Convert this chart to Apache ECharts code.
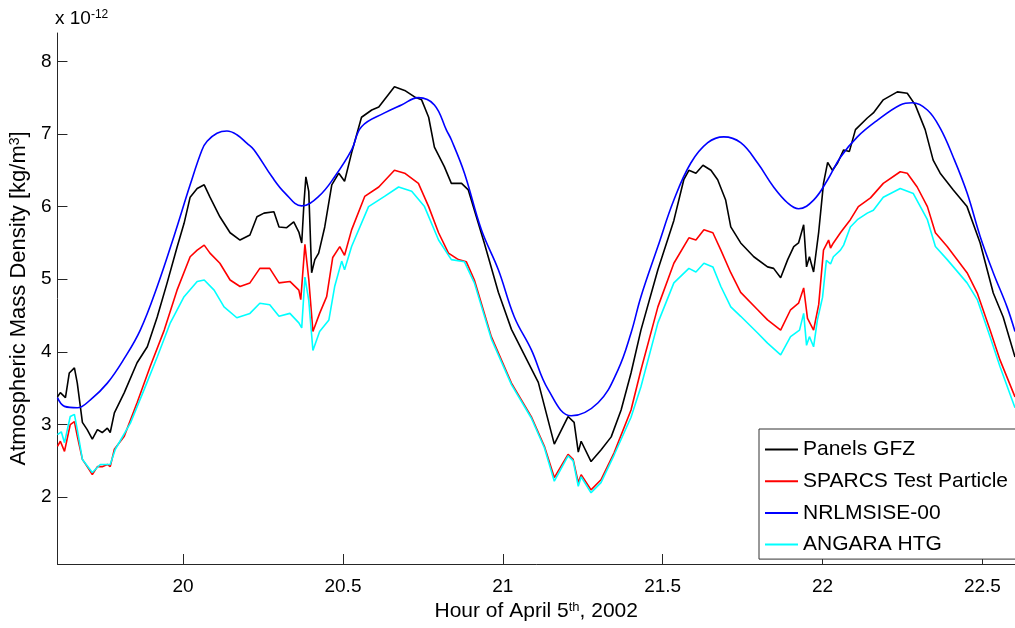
<!DOCTYPE html>
<html>
<head>
<meta charset="utf-8">
<title>Atmospheric Mass Density</title>
<script src="https://cdn.jsdelivr.net/npm/echarts@6/dist/echarts.min.js"></script>
<style>
  html, body { margin: 0; padding: 0; background: #fff; }
  #chart { width: 1015px; height: 628px; }
</style>
</head>
<body>
<div id="chart"></div>
<script>
// values in units of 1e-12 kg/m^3
const gfzHours = [19.607,19.616,19.632,19.644,19.660,19.669,19.685,19.700,19.716,19.732,
  19.747,19.763,19.772,19.785,19.816,19.856,19.888,19.919,19.950,19.981,
  20.003,20.022,20.044,20.066,20.084,20.115,20.147,20.178,20.209,20.231,
  20.253,20.284,20.300,20.324,20.346,20.362,20.371,20.378,20.384,20.393,
  20.402,20.412,20.424,20.443,20.465,20.487,20.505,20.527,20.558,20.590,
  20.612,20.661,20.693,20.724,20.746,20.768,20.786,20.817,20.839,20.871,
  20.892,20.942,20.986,21.027,21.080,21.111,21.161,21.204,21.223,21.236,
  21.245,21.276,21.307,21.339,21.370,21.401,21.432,21.485,21.535,21.566,
  21.582,21.604,21.626,21.651,21.672,21.697,21.713,21.744,21.785,21.828,
  21.847,21.869,21.891,21.910,21.925,21.941,21.950,21.959,21.972,21.988,
  22.003,22.016,22.031,22.047,22.066,22.084,22.103,22.140,22.159,22.190,
  22.234,22.265,22.290,22.321,22.346,22.368,22.409,22.452,22.493,22.534,
  22.565,22.602];
const gfzValues = [3.38,3.44,3.37,3.71,3.78,3.57,3.03,2.93,2.80,2.93,
  2.89,2.95,2.89,3.16,3.44,3.85,4.07,4.48,4.95,5.44,
  5.77,6.13,6.25,6.30,6.13,5.86,5.64,5.54,5.61,5.86,
  5.91,5.93,5.72,5.71,5.79,5.65,5.50,6.05,6.41,6.21,
  5.09,5.27,5.36,5.72,6.30,6.46,6.35,6.74,7.23,7.33,
  7.37,7.65,7.60,7.51,7.47,7.23,6.82,6.55,6.32,6.32,
  6.23,5.50,4.82,4.31,3.85,3.58,2.73,3.11,3.03,2.62,
  2.77,2.49,2.65,2.83,3.20,3.71,4.30,5.13,5.81,6.37,
  6.50,6.46,6.57,6.50,6.37,6.09,5.72,5.50,5.31,5.17,
  5.15,5.02,5.27,5.45,5.50,5.75,5.17,5.31,5.10,5.65,
  6.32,6.61,6.50,6.60,6.78,6.76,7.06,7.22,7.29,7.47,
  7.58,7.56,7.40,7.06,6.64,6.46,6.23,6.00,5.50,4.81,
  4.48,3.93];

const sparcsHours = [19.607,19.616,19.629,19.647,19.660,19.669,19.685,19.700,19.716,19.732,
  19.747,19.763,19.772,19.785,19.816,19.856,19.897,19.941,19.981,20.022,
  20.044,20.066,20.084,20.115,20.147,20.178,20.209,20.240,20.271,20.300,
  20.334,20.362,20.368,20.381,20.393,20.406,20.427,20.449,20.468,20.490,
  20.505,20.527,20.568,20.612,20.661,20.693,20.736,20.768,20.799,20.830,
  20.861,20.886,20.911,20.964,21.027,21.089,21.130,21.161,21.204,21.220,
  21.236,21.245,21.276,21.307,21.348,21.401,21.432,21.485,21.535,21.582,
  21.604,21.629,21.657,21.682,21.713,21.744,21.797,21.828,21.869,21.900,
  21.925,21.941,21.953,21.972,21.988,22.003,22.019,22.025,22.034,22.056,
  22.066,22.087,22.112,22.150,22.190,22.243,22.265,22.296,22.328,22.353,
  22.390,22.452,22.484,22.524,22.555,22.602];
const sparcsValues = [2.70,2.77,2.63,3.00,3.04,2.84,2.52,2.42,2.31,2.42,
  2.42,2.45,2.42,2.66,2.84,3.30,3.80,4.30,4.85,5.31,
  5.40,5.47,5.36,5.22,4.99,4.90,4.95,5.15,5.15,4.95,
  4.97,4.85,4.72,5.48,5.00,4.28,4.53,4.76,5.30,5.45,
  5.33,5.68,6.14,6.27,6.50,6.46,6.32,6.00,5.64,5.36,
  5.27,5.24,4.99,4.21,3.57,3.11,2.70,2.27,2.59,2.52,
  2.20,2.31,2.10,2.24,2.61,3.20,3.75,4.62,5.22,5.57,
  5.54,5.68,5.64,5.40,5.09,4.82,4.58,4.44,4.30,4.58,
  4.67,4.88,4.46,4.30,4.65,5.40,5.54,5.43,5.50,5.64,
  5.70,5.82,6.00,6.12,6.32,6.48,6.46,6.27,6.00,5.64,
  5.45,5.09,4.81,4.30,3.89,3.38];

const nrlHours = [19.607,19.629,19.669,19.710,19.763,19.816,19.866,19.919,19.972,20.022,
  20.059,20.075,20.106,20.137,20.168,20.200,20.222,20.278,20.318,20.371,
  20.424,20.474,20.527,20.558,20.630,20.683,20.736,20.786,20.824,20.839,
  20.880,20.933,20.986,21.036,21.089,21.142,21.214,21.298,21.360,21.401,
  21.432,21.485,21.535,21.588,21.641,21.691,21.744,21.797,21.847,21.891,
  21.925,21.972,22.016,22.056,22.109,22.172,22.243,22.281,22.328,22.368,
  22.409,22.452,22.493,22.534,22.577,22.602];
const nrlValues = [3.37,3.25,3.23,3.34,3.57,3.91,4.30,4.90,5.60,6.30,
  6.78,6.90,7.01,7.04,6.99,6.87,6.78,6.41,6.19,6.01,
  6.14,6.41,6.78,7.10,7.29,7.40,7.50,7.40,7.05,6.92,
  6.46,5.68,5.13,4.48,4.03,3.48,3.12,3.30,3.75,4.26,
  4.76,5.45,6.09,6.60,6.88,6.96,6.88,6.60,6.27,6.05,
  5.97,6.09,6.37,6.68,6.96,7.19,7.40,7.43,7.33,7.08,
  6.68,6.19,5.59,5.09,4.62,4.28];

const angaraHours = [19.607,19.619,19.629,19.647,19.660,19.669,19.685,19.716,19.741,19.772,
  19.788,19.835,19.878,19.919,19.960,20.003,20.044,20.066,20.097,20.128,
  20.168,20.209,20.240,20.271,20.300,20.334,20.362,20.371,20.381,20.393,
  20.406,20.427,20.456,20.474,20.496,20.505,20.527,20.580,20.630,20.674,
  20.715,20.755,20.799,20.839,20.880,20.911,20.964,21.027,21.089,21.130,
  21.161,21.204,21.220,21.236,21.245,21.276,21.307,21.348,21.401,21.432,
  21.485,21.535,21.582,21.604,21.629,21.657,21.682,21.713,21.744,21.797,
  21.828,21.869,21.900,21.928,21.941,21.950,21.959,21.972,21.984,22.000,
  22.012,22.025,22.034,22.056,22.066,22.087,22.109,22.140,22.159,22.190,
  22.243,22.284,22.328,22.353,22.390,22.452,22.484,22.524,22.555,22.602];
const angaraValues = [2.86,2.90,2.75,3.11,3.14,2.93,2.52,2.34,2.45,2.45,
  2.66,3.02,3.48,3.93,4.40,4.76,4.97,4.99,4.85,4.62,
  4.47,4.53,4.67,4.65,4.49,4.53,4.40,4.33,5.03,4.71,
  4.02,4.28,4.44,4.90,5.25,5.13,5.45,6.00,6.14,6.27,
  6.21,6.00,5.54,5.27,5.24,4.95,4.18,3.55,3.09,2.68,
  2.22,2.57,2.50,2.15,2.28,2.06,2.20,2.58,3.10,3.52,
  4.40,4.95,5.15,5.10,5.22,5.17,4.90,4.62,4.49,4.26,
  4.12,3.96,4.21,4.30,4.53,4.09,4.21,4.07,4.44,4.75,
  5.26,5.21,5.31,5.40,5.47,5.72,5.82,5.91,5.95,6.13,
  6.25,6.18,5.82,5.45,5.27,4.95,4.72,4.21,3.80,3.23];

const xTicks = [20, 20.5, 21, 21.5, 22, 22.5];
const yTicks = [2, 3, 4, 5, 6, 7, 8];

const FONT = 'Liberation Sans, Arial, Helvetica, sans-serif';
const AXIS_COLOR = '#262626';

function pairs(hours, values) {
  return hours.map((h, i) => [h, values[i]]);
}

function lineSeries(name, color, hours, values, smooth) {
  return {
    name: name,
    type: 'line',
    data: pairs(hours, values),
    symbol: 'none',
    smooth: smooth || false,
    lineStyle: { color: color, width: 1.6 },
    itemStyle: { color: color }
  };
}

const chart = echarts.init(document.getElementById('chart'), null, { renderer: 'canvas' });

chart.setOption({
  animation: false,
  backgroundColor: '#fff',
  textStyle: { fontFamily: FONT },
  title: {
    text: 'x 10{sup|-12}',
    left: 55,
    top: 9,
    padding: 0,
    textStyle: {
      fontFamily: FONT,
      fontSize: 19,
      fontWeight: 'normal',
      color: '#000',
      rich: { sup: { fontSize: 12, verticalAlign: 'top', color: '#000', fontFamily: FONT } }
    }
  },
  grid: { left: 55, right: 0, top: 33, bottom: 64, containLabel: false },
  legend: {
    orient: 'vertical',
    left: 759,
    top: 429,
    icon: 'rect',
    itemWidth: 33,
    itemHeight: 2,
    itemGap: 10.7,
    padding: [10, 8, 4, 6],
    borderColor: '#333',
    borderWidth: 1,
    backgroundColor: '#fff',
    textStyle: { fontSize: 21, color: '#000', fontFamily: FONT, lineHeight: 21 },
    data: ['Panels GFZ', 'SPARCS Test Particle', 'NRLMSISE-00', 'ANGARA HTG']
  },
  xAxis: {
    type: 'value',
    min: 19.607,
    max: 22.602,
    name: 'Hour of April 5{sup|th}, 2002',
    nameLocation: 'middle',
    nameGap: 37,
    nameTextStyle: {
      fontSize: 21, color: '#000', fontFamily: FONT,
      rich: { sup: { fontSize: 13, verticalAlign: 'top', color: '#000', fontFamily: FONT } }
    },
    axisLine: { show: true, lineStyle: { color: AXIS_COLOR, width: 1 } },
    axisTick: { show: true, inside: true, length: 10, customValues: xTicks, lineStyle: { color: AXIS_COLOR } },
    axisLabel: { customValues: xTicks, fontSize: 19, color: '#000', margin: 13, fontFamily: FONT },
    splitLine: { show: false }
  },
  yAxis: {
    type: 'value',
    min: 1.08,
    max: 8.39,
    name: 'Atmospheric Mass Density [kg/m{sup|3}]',
    nameLocation: 'middle',
    nameRotate: 90,
    nameGap: 24,
    nameTextStyle: {
      fontSize: 22, color: '#000', fontFamily: FONT,
      rich: { sup: { fontSize: 14, verticalAlign: 'top', color: '#000', fontFamily: FONT } }
    },
    axisLine: { show: true, lineStyle: { color: AXIS_COLOR, width: 1 } },
    axisTick: { show: true, inside: true, length: 10, customValues: yTicks, lineStyle: { color: AXIS_COLOR } },
    axisLabel: { customValues: yTicks, fontSize: 19, color: '#000', margin: 6, fontFamily: FONT },
    splitLine: { show: false }
  },
  series: [
    lineSeries('Panels GFZ', '#000000', gfzHours, gfzValues),
    lineSeries('SPARCS Test Particle', '#ff0000', sparcsHours, sparcsValues),
    lineSeries('NRLMSISE-00', '#0000ff', nrlHours, nrlValues, 0.4),
    lineSeries('ANGARA HTG', '#00ffff', angaraHours, angaraValues)
  ]
});
</script>
</body>
</html>
